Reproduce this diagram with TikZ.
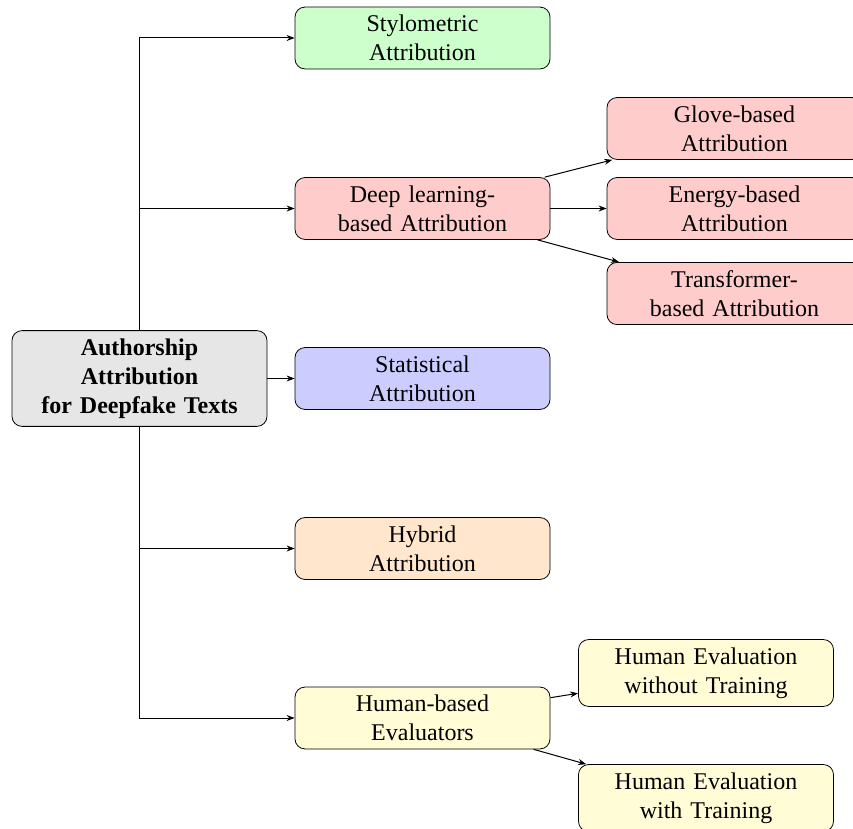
\documentclass[tikz,border=0pt]{standalone}
\usepackage{fontspec}
\setmainfont{Liberation Serif}
\usetikzlibrary{arrows.meta}
\definecolor{rootfill}{HTML}{E6E6E6}
\definecolor{stylofill}{HTML}{CCFFCC}
\definecolor{deepfill}{HTML}{FFCCCC}
\definecolor{statfill}{HTML}{CCCCFF}
\definecolor{hybridfill}{HTML}{FFE6CC}
\definecolor{humanfill}{HTML}{FFFCD6}
\tikzset{
  box/.style={draw, rounded corners=5pt, align=center, inner sep=4pt,
    text width=119.5pt, font=\fontsize{12}{14.5}\selectfont},
  rootbox/.style={box, fill=rootfill, font=\fontsize{12}{14.5}\selectfont\bfseries},
  link/.style={-{Stealth[length=4pt,width=3pt]}, line width=0.5pt}
}
\begin{document}
\begin{tikzpicture}[x=0.5pt,y=-0.5pt]
\useasboundingbox (0,0) rectangle (853,829);

% root of the taxonomy
\node[rootbox] (root) at (139.5,378.5) {Authorship\\Attribution\\for Deepfake Texts};

% first level
\node[box, fill=stylofill]  (stylo)  at (422.5,38)  {Stylometric\\Attribution};
\node[box, fill=deepfill]   (deep)   at (422.5,208.5) {Deep learning-\\based Attribution};
\node[box, fill=statfill]   (stat)   at (422.5,378.5) {Statistical\\Attribution};
\node[box, fill=hybridfill] (hybrid) at (422.5,548.5) {Hybrid\\Attribution};
\node[box, fill=humanfill]  (human)  at (422.5,718)  {Human-based\\Evaluators};

% deep learning branch
\node[box, fill=deepfill] (glove)  at (734.5,128.5) {Glove-based\\Attribution};
\node[box, fill=deepfill] (energy) at (734.5,208.5) {Energy-based\\Attribution};
\node[box, fill=deepfill] (trans)  at (734.5,293.5) {Transformer-\\based Attribution};

% human evaluation branch
\node[box, fill=humanfill] (hwo) at (706,673) {Human Evaluation\\without Training};
\node[box, fill=humanfill] (hw)  at (706,798) {Human Evaluation\\with Training};

% connectors from the root
\draw[link] (root.north) |- (stylo.west);
\draw[link] (root.north) |- (deep.west);
\draw[link] (root) -- (stat);
\draw[link] (root.south) |- (hybrid.west);
\draw[link] (root.south) |- (human.west);

% second level connectors
\draw[link] (deep) -- (glove);
\draw[link] (deep) -- (energy);
\draw[link] (deep) -- (trans);
\draw[link] (human) -- (hwo);
\draw[link] (human) -- (hw);
\end{tikzpicture}
\end{document}
